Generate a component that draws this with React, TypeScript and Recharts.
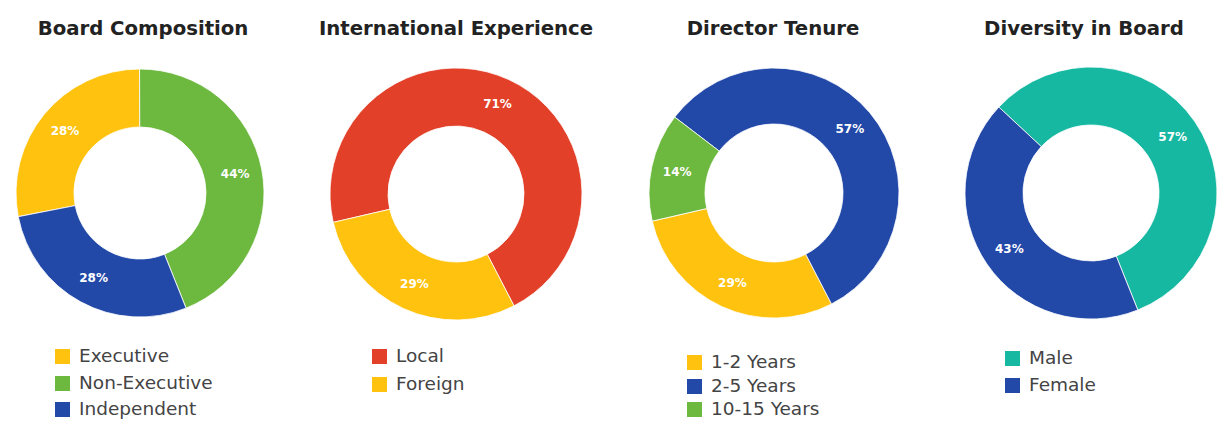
import React from "react";
import { PieChart, Pie, Cell } from "recharts";

const YELLOW = "#FFC20E";
const GREEN = "#6DB83F";
const BLUE = "#2248A8";
const RED = "#E3402A";
const TEAL = "#17B8A2";

const boardNames = ["Executive", "Non-Executive", "Independent"];
const boardValues = [28, 44, 28];
const boardColors = [YELLOW, GREEN, BLUE];

const intlNames = ["Local", "Foreign"];
const intlValues = [71, 29];
const intlColors = [RED, YELLOW];

const tenureNames = ["1-2 Years", "2-5 Years", "10-15 Years"];
const tenureValues = [29, 57, 14];
const tenureColors = [YELLOW, BLUE, GREEN];

const diversityNames = ["Male", "Female"];
const diversityValues = [57, 43];
const diversityColors = [TEAL, BLUE];

const titles = ["Board Composition", "International Experience", "Director Tenure", "Diversity in Board"];

const build = (names: string[], values: number[]) => names.map((n, i) => ({ name: n, value: values[i] }));

type PanelCfg = {
  title: string;
  names: string[];
  values: number[];
  colors: string[];
  left: number;
  cx: number;
  cy: number;
  inner: number;
  outer: number;
  start: number;
  end: number;
  titleX: number;
  legendX: number;
  legendY: number[];
};

const panels: PanelCfg[] = [
  { title: titles[0], names: boardNames, values: boardValues, colors: boardColors, left: 0, cx: 140, cy: 193, inner: 66, outer: 124, start: 191, end: -169, titleX: 143, legendX: 55, legendY: [356, 383, 409] },
  { title: titles[1], names: intlNames, values: intlValues, colors: intlColors, left: 305, cx: 151, cy: 194, inner: 68, outer: 126, start: 193, end: -167, titleX: 456, legendX: 372, legendY: [356, 384] },
  { title: titles[2], names: tenureNames, values: tenureValues, colors: tenureColors, left: 610, cx: 164, cy: 193, inner: 69, outer: 125, start: 193, end: 553, titleX: 773, legendX: 687, legendY: [362, 386, 409] },
  { title: titles[3], names: diversityNames, values: diversityValues, colors: diversityColors, left: 915, cx: 176, cy: 193, inner: 68, outer: 126, start: 137, end: -223, titleX: 1084, legendX: 1005, legendY: [358, 385] },
];

const RAD = Math.PI / 180;

const renderLabel = (props: any) => {
  const { cx, cy, midAngle, innerRadius, outerRadius, value } = props;
  const r = (innerRadius + outerRadius) / 2 + 2;
  const x = cx + r * Math.cos(-midAngle * RAD);
  const y = cy + r * Math.sin(-midAngle * RAD);
  return (
    <text x={x} y={y} fill="#ffffff" textAnchor="middle" dominantBaseline="central"
      style={{ fontFamily: "DejaVu Sans", fontWeight: 700, fontSize: 12 }}>
      {`${value}%`}
    </text>
  );
};

export default function App() {
  return (
    <div style={{ position: "absolute", left: 0, top: 0, width: 1220, height: 422, background: "#fff", overflow: "hidden" }}>
      {panels.map((p, k) => (
        <React.Fragment key={k}>
          <div style={{ position: "absolute", left: p.left, top: 0 }}>
            <PieChart width={305} height={340} margin={{ top: 0, right: 0, bottom: 0, left: 0 }}>
              <Pie
                data={build(p.names, p.values)}
                dataKey="value"
                nameKey="name"
                cx={p.cx}
                cy={p.cy}
                innerRadius={p.inner}
                outerRadius={p.outer}
                startAngle={p.start}
                endAngle={p.end}
                stroke="#ffffff"
                strokeWidth={0.8}
                label={renderLabel}
                labelLine={false}
                isAnimationActive={false}
              >
                {p.names.map((n, i) => (
                  <Cell key={n} fill={p.colors[i]} />
                ))}
              </Pie>
            </PieChart>
          </div>
          <div style={{ position: "absolute", left: p.titleX - 200, width: 400, top: 15, textAlign: "center", fontFamily: "DejaVu Sans", fontWeight: 700, fontSize: 19.7, color: "#222", lineHeight: "28px" }}>
            {p.title}
          </div>
          {p.names.map((n, i) => (
            <div key={n} style={{ position: "absolute", left: p.legendX, top: p.legendY[i] - 11, height: 22, lineHeight: "22px", display: "flex", alignItems: "center", fontFamily: "DejaVu Sans", fontSize: 18.5, color: "#444", whiteSpace: "nowrap" }}>
              <span style={{ display: "inline-block", width: 15, height: 15, background: p.colors[i], marginRight: 9 }} />
              {n}
            </div>
          ))}
        </React.Fragment>
      ))}
    </div>
  );
}
